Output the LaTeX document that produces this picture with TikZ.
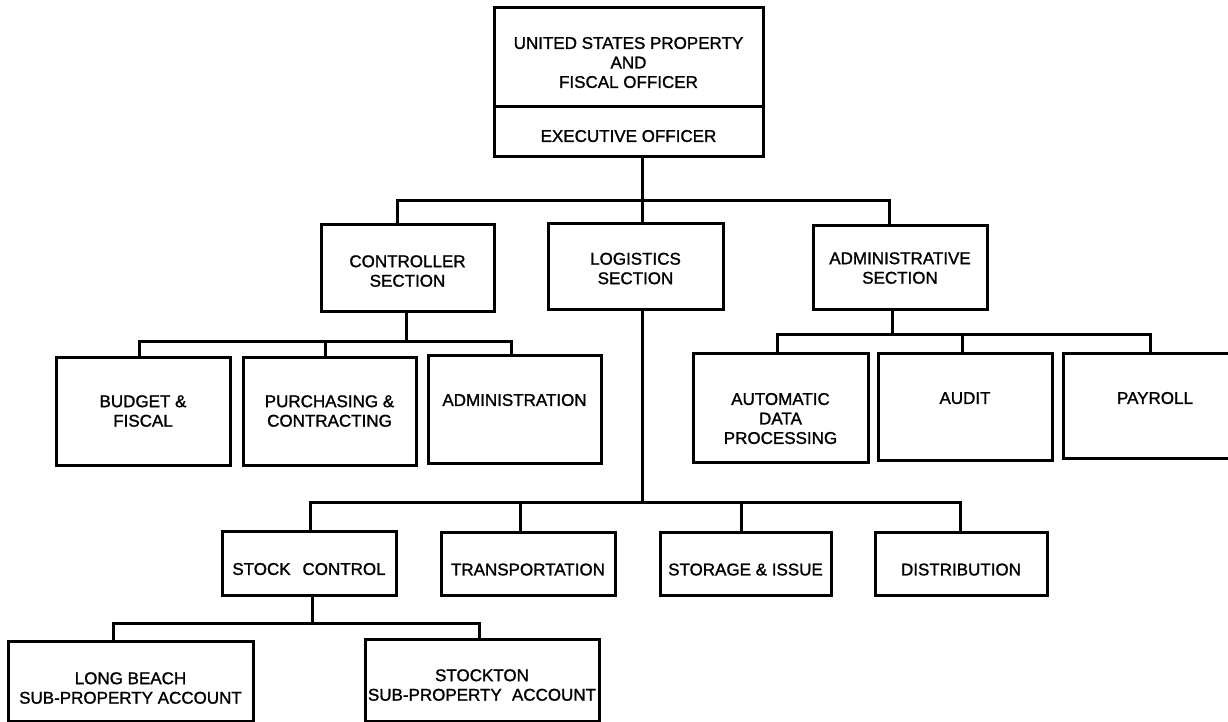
\documentclass[tikz,border=0pt]{standalone}
\usepackage{fontspec}
\setmainfont{Liberation Sans}[FakeBold=1.3]
\newcommand{\boxtext}[2]{\raisebox{#1}[\height][\depth]{\begin{tabular}{@{}c@{}}#2\end{tabular}}}
\begin{document}
\begin{tikzpicture}[x=1pt,y=-1pt,
  orgbox/.style={draw, line width=3pt, rectangle, inner sep=0pt, align=center,
    font=\fontsize{17}{19.5}\selectfont},
  wire/.style={line width=3pt, line cap=rect}]
\useasboundingbox[fill=white] (0,0) rectangle (1228,722);
% top
\node[orgbox, minimum width=269pt, minimum height=99pt] (usp) at (628.5,57.5)
  {\boxtext{-7pt}{UNITED STATES PROPERTY\\AND\\FISCAL OFFICER}};
\node[orgbox, minimum width=269pt, minimum height=50pt] (exec) at (628.5,132)
  {\boxtext{-6pt}{EXECUTIVE OFFICER}};
% sections
\node[orgbox, minimum width=173pt, minimum height=87pt] (ctrl) at (407.5,267.5)
  {\boxtext{-5.5pt}{CONTROLLER\\SECTION}};
\node[orgbox, minimum width=175pt, minimum height=86pt] (log) at (635.5,266)
  {\boxtext{-4.5pt}{LOGISTICS\\SECTION}};
\node[orgbox, minimum width=174pt, minimum height=84pt] (adms) at (900,267)
  {\boxtext{-3pt}{ADMINISTRATIVE\\SECTION}};
% controller children
\node[orgbox, minimum width=174pt, minimum height=108pt] (budget) at (143,411)
  {\boxtext{-2pt}{BUDGET \&\\FISCAL}};
\node[orgbox, minimum width=173pt, minimum height=108pt] (purch) at (329.5,411)
  {\boxtext{-2pt}{PURCHASING \&\\CONTRACTING}};
\node[orgbox, minimum width=173pt, minimum height=108pt] (admin) at (514.5,409)
  {\boxtext{7pt}{ADMINISTRATION}};
% administrative children
\node[orgbox, minimum width=175pt, minimum height=109pt] (adp) at (780.5,407.5)
  {\boxtext{-13pt}{AUTOMATIC\\DATA\\PROCESSING}};
\node[orgbox, minimum width=174pt, minimum height=107pt] (audit) at (965,406.5)
  {\boxtext{6.5pt}{AUDIT}};
\node[orgbox, minimum width=184pt, minimum height=105pt] (payroll) at (1155,405.5)
  {\boxtext{5.5pt}{PAYROLL}};
% logistics children
\node[orgbox, minimum width=174pt, minimum height=64pt] (stock) at (309,563)
  {\boxtext{-8pt}{STOCK\hspace{0.7em}CONTROL}};
\node[orgbox, minimum width=174pt, minimum height=63pt] (transp) at (528,563.5)
  {\boxtext{-8pt}{TRANSPORTATION}};
\node[orgbox, minimum width=171pt, minimum height=63pt] (storage) at (745.5,563.5)
  {\boxtext{-8pt}{STORAGE \& ISSUE}};
\node[orgbox, minimum width=172pt, minimum height=63pt] (distr) at (961,563.5)
  {\boxtext{-8pt}{DISTRIBUTION}};
% stock control children
\node[orgbox, minimum width=245pt, minimum height=80pt] (longb) at (130.5,681)
  {\boxtext{-9pt}{LONG BEACH\\SUB-PROPERTY ACCOUNT}};
\node[orgbox, minimum width=234pt, minimum height=82pt] (stockton) at (482,680)
  {\boxtext{-7pt}{STOCKTON\\SUB-PROPERTY\hspace{0.6em}ACCOUNT}};
% bus 1
\coordinate (t0) at (642,201);
\coordinate (tc) at (397,201);
\coordinate (ta) at (889,201);
\draw[wire] (exec.south -| t0) -- (t0);
\draw[wire] (tc |- ctrl.north) -- (tc) -- (ta) -- (ta |- adms.north);
\draw[wire] (t0) -- (t0 |- log.north);
% controller bus
\coordinate (c0) at (406,341);
\coordinate (c1) at (139,341);
\coordinate (c2) at (325,341);
\coordinate (c3) at (511,341);
\draw[wire] (ctrl.south -| c0) -- (c0);
\draw[wire] (c1 |- budget.north) -- (c1) -- (c3) -- (c3 |- admin.north);
\draw[wire] (c2) -- (c2 |- purch.north);
% administrative bus
\coordinate (a0) at (892,334);
\coordinate (a1) at (777,334);
\coordinate (a2) at (962,334);
\coordinate (a3) at (1150,334);
\draw[wire] (adms.south -| a0) -- (a0);
\draw[wire] (a1 |- adp.north) -- (a1) -- (a3) -- (a3 |- payroll.north);
\draw[wire] (a2) -- (a2 |- audit.north);
% logistics bus
\coordinate (l0) at (642,502);
\coordinate (l1) at (310,502);
\coordinate (l2) at (520,502);
\coordinate (l3) at (741,502);
\coordinate (l4) at (960,502);
\draw[wire] (log.south -| l0) -- (l0);
\draw[wire] (l1 |- stock.north) -- (l1) -- (l4) -- (l4 |- distr.north);
\draw[wire] (l2) -- (l2 |- transp.north);
\draw[wire] (l3) -- (l3 |- storage.north);
% stock control bus
\coordinate (s0) at (312,623);
\coordinate (s1) at (113,623);
\coordinate (s2) at (479,623);
\draw[wire] (stock.south -| s0) -- (s0);
\draw[wire] (s1 |- longb.north) -- (s1) -- (s2) -- (s2 |- stockton.north);
\end{tikzpicture}
\end{document}
